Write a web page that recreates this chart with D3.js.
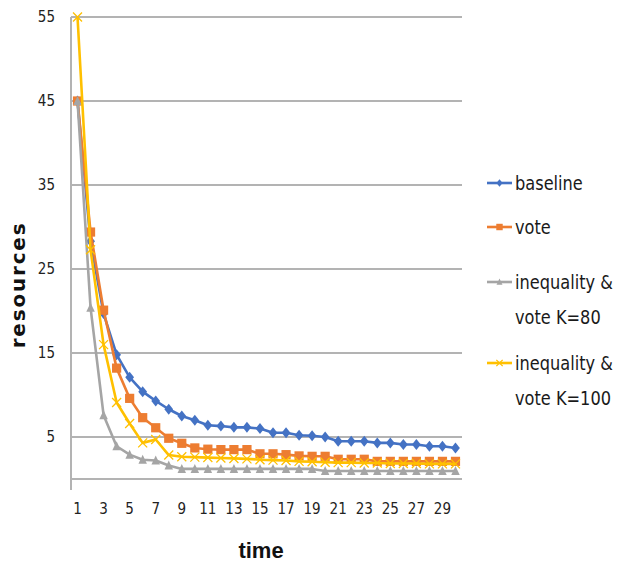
<!DOCTYPE html>
<html>
<head>
<meta charset="utf-8">
<script src="https://cdn.jsdelivr.net/npm/d3@7"></script>
<style>
  html, body { margin: 0; padding: 0; background: #fff; }
  svg { display: block; }
</style>
</head>
<body>
<svg id="chart" width="637" height="569"></svg>
<script>
// Time steps 1..30
const times = d3.range(1, 31);

// Resources per time step for each scenario
const baseline = [45, 28.3, 19.7, 14.8, 12.1, 10.4, 9.3, 8.3, 7.5, 7.0, 6.4, 6.3, 6.15, 6.15, 6.0,
                  5.5, 5.5, 5.2, 5.15, 5.0, 4.5, 4.5, 4.5, 4.3, 4.3, 4.1, 4.1, 3.9, 3.9, 3.7];
const vote = [45, 29.4, 20.1, 13.2, 9.6, 7.3, 6.1, 4.85, 4.25, 3.7, 3.55, 3.5, 3.5, 3.5, 3.0,
              3.0, 2.9, 2.75, 2.7, 2.7, 2.35, 2.35, 2.35, 2.1, 2.1, 2.1, 2.1, 2.1, 2.1, 2.1];
const voteK80 = [45, 20.4, 7.6, 3.9, 2.9, 2.3, 2.2, 1.6, 1.2, 1.2, 1.2, 1.2, 1.2, 1.2, 1.2,
                 1.2, 1.2, 1.2, 1.2, 0.95, 0.95, 0.95, 0.95, 0.95, 0.95, 0.95, 0.95, 0.95, 0.95, 0.95];
const voteK100 = [55, 27.3, 16.0, 9.1, 6.6, 4.3, 4.7, 2.85, 2.65, 2.6, 2.55, 2.5, 2.45, 2.4, 2.3,
                  2.25, 2.2, 2.1, 2.05, 2.0, 1.95, 1.95, 1.9, 1.9, 1.85, 1.85, 1.85, 1.8, 1.8, 1.8];

// Axis ticks
const yTicks = [5, 15, 25, 35, 45, 55];
const xTickLabels = d3.range(1, 30, 2);

// Series definitions
const seriesNames = ["baseline", "vote", "inequality & vote K=80", "inequality & vote K=100"];
const seriesValues = [baseline, vote, voteK80, voteK100];
const seriesColors = ["#4472C4", "#ED7D31", "#A5A5A5", "#FFC000"];
const seriesMarkers = ["diamond", "square", "triangle", "cross"];
const legendLines = [["baseline"], ["vote"], ["inequality &", "vote K=80"], ["inequality &", "vote K=100"]];

const svg = d3.select("#chart");
const plot = { left: 71, right: 462, top: 17, bottom: 479 };

const x = d3.scaleBand().domain(times).range([plot.left, plot.right]).paddingInner(0).paddingOuter(0);
const cx = t => x(t) + x.bandwidth() / 2;
const y = d3.scaleLinear().domain([0, 55]).range([plot.bottom, plot.top]);

const gridColor = "#b3b3b3";
const narrowFont = "'DejaVu Sans Condensed', 'Liberation Sans', sans-serif";

// Horizontal gridlines
svg.append("g")
  .selectAll("line")
  .data(yTicks)
  .join("line")
  .attr("x1", plot.left).attr("x2", plot.right)
  .attr("y1", d => y(d)).attr("y2", d => y(d))
  .attr("stroke", gridColor).attr("stroke-width", 2);

// Y axis
const yAxis = d3.axisLeft(y).tickValues(yTicks).tickSize(0).tickPadding(16);
const gy = svg.append("g").attr("transform", `translate(${plot.left},0)`).call(yAxis);
gy.select(".domain").remove();
gy.selectAll("text")
  .attr("font-family", narrowFont).attr("font-size", 15).attr("fill", "#222");

// Vertical axis line
svg.append("line")
  .attr("x1", plot.left).attr("x2", plot.left)
  .attr("y1", plot.top).attr("y2", plot.bottom + 11)
  .attr("stroke", gridColor).attr("stroke-width", 2);

// X axis (baseline line at 0)
const xAxis = d3.axisBottom(x).tickValues(xTickLabels).tickSize(0).tickPadding(24);
const gx = svg.append("g").attr("transform", `translate(0,${plot.bottom})`).call(xAxis);
gx.select(".domain").remove();
gx.selectAll("text")
  .attr("font-family", narrowFont).attr("font-size", 15).attr("fill", "#222");
svg.append("line")
  .attr("x1", plot.left).attr("x2", plot.right)
  .attr("y1", plot.bottom).attr("y2", plot.bottom)
  .attr("stroke", gridColor).attr("stroke-width", 2);

// Marker shapes
function marker(g, type, color, px, py, s) {
  if (type === "diamond") {
    g.append("path")
      .attr("d", `M${px},${py - s}L${px + s * 0.8},${py}L${px},${py + s}L${px - s * 0.8},${py}Z`)
      .attr("fill", color);
  } else if (type === "square") {
    g.append("rect")
      .attr("x", px - s).attr("y", py - s).attr("width", 2 * s).attr("height", 2 * s)
      .attr("fill", color);
  } else if (type === "triangle") {
    g.append("path")
      .attr("d", `M${px},${py - s}L${px + s * 0.85},${py + s * 0.8}L${px - s * 0.85},${py + s * 0.8}Z`)
      .attr("fill", color);
  } else {
    g.append("path")
      .attr("d", `M${px - s},${py - s}L${px + s},${py + s}M${px - s},${py + s}L${px + s},${py - s}`)
      .attr("stroke", color).attr("stroke-width", 1.3).attr("fill", "none");
  }
}

const markerSize = [5.5, 4.6, 5, 4.5];

// Lines and markers
const line = d3.line().x((d, i) => cx(times[i])).y(d => y(d));
seriesValues.forEach((vals, k) => {
  const g = svg.append("g");
  g.append("path")
    .datum(vals)
    .attr("d", line)
    .attr("fill", "none")
    .attr("stroke", seriesColors[k])
    .attr("stroke-width", 2.6)
    .attr("stroke-linejoin", "round");
  vals.forEach((v, i) => marker(g, seriesMarkers[k], seriesColors[k], cx(times[i]), y(v), markerSize[k]));
});

// Axis titles
svg.append("text")
  .attr("transform", `translate(25,285) rotate(-90)`)
  .attr("text-anchor", "middle")
  .attr("font-family", "'DejaVu Sans', sans-serif")
  .attr("font-weight", "bold").attr("font-size", 20)
  .attr("letter-spacing", 1.8)
  .attr("fill", "#111")
  .text("resources");

svg.append("text")
  .attr("x", 261).attr("y", 558)
  .attr("text-anchor", "middle")
  .attr("font-family", "'Liberation Sans', sans-serif")
  .attr("font-weight", "bold").attr("font-size", 22)
  .attr("fill", "#111")
  .text("time");

// Legend
const legendY = [183, 227, 282, 363];
legendLines.forEach((lines, k) => {
  const g = svg.append("g").attr("transform", `translate(0,${legendY[k]})`);
  g.append("line")
    .attr("x1", 487).attr("x2", 512).attr("y1", 0).attr("y2", 0)
    .attr("stroke", seriesColors[k]).attr("stroke-width", 2.6);
  marker(g, seriesMarkers[k], seriesColors[k], 499.5, 0, markerSize[k] * 0.7);
  lines.forEach((t, j) => {
    g.append("text")
      .attr("transform", `translate(515,${j * 35}) scale(0.9,1)`)
      .attr("dy", "0.35em")
      .attr("font-family", narrowFont)
      .attr("font-size", 20)
      .attr("fill", "#1a1a1a")
      .text(t);
  });
});
</script>
</body>
</html>
